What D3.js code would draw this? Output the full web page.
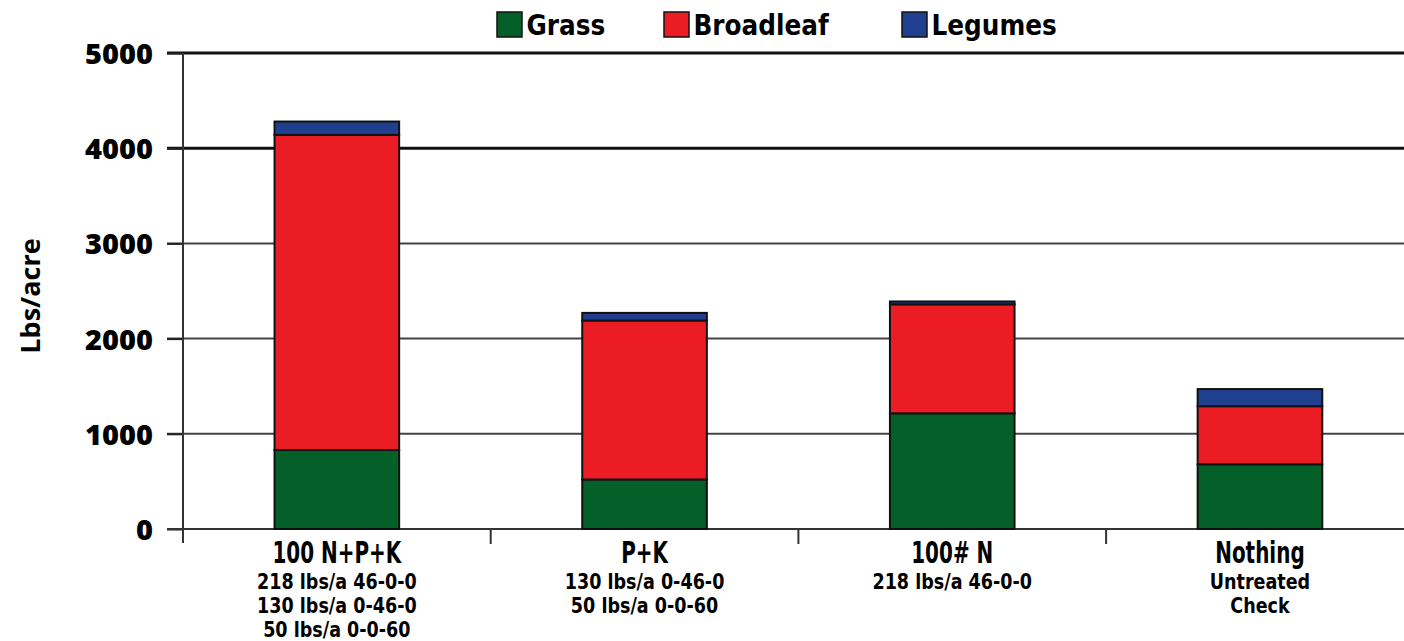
<!DOCTYPE html>
<html>
  <head>
    <meta charset='utf-8' />
    <script src="https://d3js.org/d3.v7.min.js"></script>
    <style>
    body { margin: 0; background: #fff; }
    text { font-family: "Open Sans", sans-serif; font-weight: bold; fill: #000; }
    .narrow { font-family: "DejaVu Sans Condensed", "DejaVu Sans", sans-serif; font-stretch: condensed; }
    </style>
  </head>
  <body>
    <div id="chart"></div>
    <script>
var categories = ["100 N+P+K", "P+K", "100# N", "Nothing"];
var subLabels = [
  ["218 lbs/a 46-0-0", "130 lbs/a 0-46-0", "50 lbs/a 0-0-60"],
  ["130 lbs/a 0-46-0", "50 lbs/a 0-0-60"],
  ["218 lbs/a 46-0-0"],
  ["Untreated", "Check"]
];
var seriesNames = ["Grass", "Broadleaf", "Legumes"];
var grass = [830, 520, 1215, 680];
var broadleaf = [3310, 1670, 1145, 610];
var legumes = [140, 80, 30, 180];
var yTicks = [0, 1000, 2000, 3000, 4000, 5000];
var colors = ["#045f29", "#ec1c24", "#213f8f"];

var width = 1404, height = 641;
var margin = {top: 53, right: 0, bottom: 111, left: 183};

var svg = d3.select("#chart").append("svg")
    .attr("width", width)
    .attr("height", height);

var rows = categories.map(function(c, i) {
  return {cat: c, Grass: grass[i], Broadleaf: broadleaf[i], Legumes: legumes[i]};
});

var x = d3.scaleBand()
    .domain(categories)
    .range([margin.left, margin.left + 4 * 307.7])
    .paddingInner(0.595)
    .paddingOuter(0.2975);

var y = d3.scaleLinear()
    .domain([0, 5000])
    .range([height - margin.bottom - 1, margin.top]);

// gridlines
svg.append("g").selectAll("line")
  .data(yTicks.slice(1))
  .enter().append("line")
    .attr("x1", margin.left - 16)
    .attr("x2", width)
    .attr("y1", function(d) { return y(d); })
    .attr("y2", function(d) { return y(d); })
    .style("stroke", function(d) { return d >= 4000 ? "#111" : "#444"; })
    .style("stroke-width", function(d) { return d >= 4000 ? 3 : 2; });

// y axis
var yAxis = svg.append("g")
    .attr("transform", "translate(" + margin.left + ",0)")
    .call(d3.axisLeft(y).tickValues(yTicks).tickFormat(d3.format("d")).tickSize(16).tickPadding(14));
yAxis.select(".domain").remove();
yAxis.selectAll(".tick line").style("stroke", "#222").style("stroke-width", 2);
yAxis.selectAll(".tick text")
    .style("font-size", "29px")
    .style("font-weight", 800)
    .attr("dy", "0.36em");
svg.append("line")
    .attr("x1", margin.left).attr("x2", margin.left)
    .attr("y1", margin.top).attr("y2", y(0) + 14)
    .style("stroke", "#333").style("stroke-width", 2);

// x axis baseline and ticks between categories
svg.append("line")
    .attr("x1", margin.left - 16).attr("x2", width)
    .attr("y1", y(0)).attr("y2", y(0))
    .style("stroke", "#333").style("stroke-width", 2);
var step = x.step();
svg.append("g").selectAll("line")
  .data(categories.slice(1))
  .enter().append("line")
    .attr("x1", function(d) { return x(d) - (step - x.bandwidth()) / 2; })
    .attr("x2", function(d) { return x(d) - (step - x.bandwidth()) / 2; })
    .attr("y1", y(0))
    .attr("y2", y(0) + 15)
    .style("stroke", "#333").style("stroke-width", 2);

// stacked bars
var stack = d3.stack().keys(seriesNames);
var layers = stack(rows);

svg.append("g").selectAll("g")
  .data(layers)
  .enter().append("g")
    .style("fill", function(d, i) { return colors[i]; })
  .selectAll("rect")
  .data(function(d) { return d; })
  .enter().append("rect")
    .attr("x", function(d) { return x(d.data.cat); })
    .attr("width", x.bandwidth())
    .attr("y", function(d) { return y(d[1]); })
    .attr("height", function(d) { return y(d[0]) - y(d[1]); })
    .style("stroke", "#111")
    .style("stroke-width", 2);

// category labels
var lab = svg.append("g").selectAll("g")
  .data(categories)
  .enter().append("g")
    .attr("transform", function(d) { return "translate(" + (x(d) + x.bandwidth() / 2) + ",0)"; });
lab.append("text")
    .attr("class", "narrow")
    .attr("transform", "scale(0.74,1)")
    .attr("y", 563)
    .attr("text-anchor", "middle")
    .style("font-size", "30px")
    .text(function(d) { return d; });
lab.each(function(d, i) {
  d3.select(this).selectAll("text.sub")
    .data(subLabels[i])
    .enter().append("text")
      .attr("class", "narrow sub")
      .attr("transform", "scale(0.93,1)")
      .attr("y", function(s, j) { return 589 + j * 24; })
      .attr("text-anchor", "middle")
      .style("font-size", "21px")
      .text(function(s) { return s; });
});

// y title
svg.append("text")
    .attr("transform", "translate(40,296) rotate(-90)")
    .attr("text-anchor", "middle")
    .style("font-size", "27px")
    .text("Lbs/acre");

// legend
var legendX = [497, 664, 902];
var leg = svg.append("g").selectAll("g")
  .data(seriesNames)
  .enter().append("g")
    .attr("transform", function(d, i) { return "translate(" + legendX[i] + ",12)"; });
leg.append("rect")
    .attr("width", 25).attr("height", 25)
    .style("fill", function(d, i) { return colors[i]; })
    .style("stroke", "#111").style("stroke-width", 1.5);
leg.append("text")
    .attr("class", "narrow")
    .attr("transform", "scale(0.95,1)")
    .attr("x", 31).attr("y", 23)
    .style("font-size", "29px")
    .text(function(d) { return d; });
    </script>
</body>
</html>
